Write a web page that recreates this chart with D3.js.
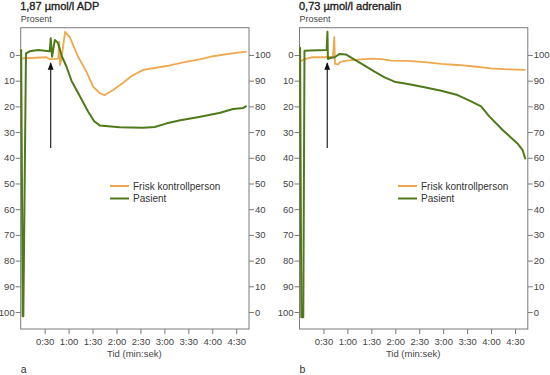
<!DOCTYPE html>
<html>
<head>
<meta charset="utf-8">
<script src="https://cdn.jsdelivr.net/npm/d3@7"></script>
<style>
  body { margin: 0; background: #fff; }
  svg { display: block; font-family: "Liberation Sans", Arial, sans-serif; }
</style>
</head>
<body>
<svg id="chart" width="550" height="375"></svg>
<script>
// tid i sekunder, verdier i prosent (venstre akse)
const adpKontrollTid = [0.9, 32, 36.4, 44.8, 47, 48.3, 49.3, 50.8, 55.6, 61.5, 71.9, 82.4, 90.7, 99.1, 105.4, 115.8, 128.4, 138.9, 153.5, 182.8, 207.9, 224.6, 241, 265, 283];
const adpKontroll = [1.3, 0.9, 1.6, 1.5, 1.3, -5.2, 3.9, 1.9, -9.0, -6.9, 0.7, 6.5, 12.3, 14.9, 15.6, 13.6, 10.8, 8.2, 5.8, 4.3, 2.6, 1.7, 0.5, -0.6, -1.3];

const adpPasientTid = [0, 0.6, 2.5, 3.3, 6.6, 11.3, 21.7, 30, 36.4, 37.6, 39.3, 42.7, 46, 47, 51.4, 57.3, 63.6, 74, 84.4, 92, 99, 124, 153, 168, 183, 200, 225, 250, 266, 279, 283];
const adpPasient = [-1.9, -1.9, 101.6, 101.6, -0.6, -1.4, -1.9, -1.6, -1.4, -6.5, 0.7, -5.8, -4.9, -4.3, 0.4, 4.5, 10, 16, 22, 25.8, 27.4, 28.1, 28.3, 28.0, 26.6, 25.4, 24, 22.5, 21, 20.6, 19.8];

const adrKontrollTid = [0.4, 6.6, 15, 31.6, 42, 43.5, 44.5, 47.9, 51.6, 56.6, 69, 90, 102.5, 115, 135.8, 156.6, 177.5, 198, 219, 240, 260.8, 283];
const adrKontroll = [2.6, 1.6, 0.9, 0.9, 0.7, -6.9, 3.5, 3.7, 2.7, 2.3, 1.9, 1.4, 1.6, 2.2, 2.3, 2.8, 3.5, 3.9, 4.5, 5.2, 5.6, 5.8];

const adrPasientTid = [0, 0.75, 2.3, 4.75, 6.25, 12.9, 34, 35, 35.6, 38.5, 44, 50.4, 57.9, 73.3, 94, 106.6, 119, 135.8, 156.6, 177.5, 198, 213, 227.5, 238, 254.5, 273, 279.5, 283];
const adrPasient = [-2.8, -2.8, 102, 102, -1.6, -1.75, -1.9, -9, 1.6, 1.2, 0.9, -0.4, -0.2, 2.6, 6.5, 8.7, 10.4, 11.3, 12.6, 13.9, 15.6, 17.8, 20.0, 24, 29.2, 34.4, 37, 40.6];

const xTicks = [30, 60, 90, 120, 150, 180, 210, 240, 270];
const xTickLabels = ["0:30", "1:00", "1:30", "2:00", "2:30", "3:00", "3:30", "4:00", "4:30"];
const yTicks = [0, 10, 20, 30, 40, 50, 60, 70, 80, 90, 100];
const seriesNames = ["Frisk kontrollperson", "Pasient"];
const titles = ["1,87 µmol/l ADP", "0,73 µmol/l adrenalin"];
const letters = ["a", "b"];
const arrowTid = [37.6, 34.75];
const arrowFra = 36.2, arrowTil = 3.1;

const orange = "#efa84e";
const green = "#4f7a1b";
const frameCol = "#7a7a7a";
const textCol = "#444";

const svg = d3.select("#chart");
const defs = svg.append("defs");
defs.append("marker")
  .attr("id", "pil")
  .attr("viewBox", "0 0 10 10")
  .attr("refX", 9).attr("refY", 5)
  .attr("markerWidth", 7).attr("markerHeight", 7)
  .attr("orient", "auto")
  .append("path").attr("d", "M0,1.2 L10,5 L0,8.8 z").attr("fill", "#111");

const panels = [
  { left: 20.7, kTid: adpKontrollTid, k: adpKontroll, pTid: adpPasientTid, p: adpPasient, legendX: 110 },
  { left: 299.5, kTid: adrKontrollTid, k: adrKontroll, pTid: adrPasientTid, p: adrPasient, legendX: 398 }
];
const plotW = 228.3, plotTop = 27.7, plotBottom = 329;

panels.forEach((pn, i) => {
  const x = d3.scaleLinear().domain([0, 286]).range([pn.left, pn.left + plotW]);
  const y = d3.scaleLinear().domain([-10.6, 106.6]).range([plotTop, plotBottom]);
  const yR = d3.scaleLinear().domain([110.6, -6.6]).range([plotTop, plotBottom]);

  const g = svg.append("g");

  // tittel
  g.append("text").attr("x", pn.left - 0.5).attr("y", 9.5)
    .attr("font-size", 11).attr("fill", "#222")
    .attr("stroke", "#222").attr("stroke-width", 0.35)
    .text(titles[i]);
  g.append("text").attr("x", pn.left).attr("y", 22)
    .attr("font-size", 9).attr("fill", textCol).text("Prosent");

  // ramme
  g.append("rect").attr("x", pn.left).attr("y", plotTop)
    .attr("width", plotW).attr("height", plotBottom - plotTop)
    .attr("fill", "none").attr("stroke", frameCol).attr("stroke-width", 1);

  const styleAxis = sel => {
    sel.select(".domain").remove();
    sel.selectAll(".tick line").attr("stroke", frameCol);
    sel.selectAll(".tick text").attr("fill", textCol).attr("font-size", 9.5)
      .attr("font-family", "'Liberation Sans', Arial, sans-serif");
  };

  g.append("g").attr("transform", `translate(${pn.left},0)`)
    .call(d3.axisLeft(y).tickValues(yTicks).tickSize(5).tickPadding(1))
    .call(styleAxis);
  g.append("g").attr("transform", `translate(${pn.left + plotW},0)`)
    .call(d3.axisRight(yR).tickValues(yTicks).tickSize(5).tickPadding(1))
    .call(styleAxis);
  g.append("g").attr("transform", `translate(0,${plotBottom})`)
    .call(d3.axisBottom(x).tickValues(xTicks).tickFormat((d, j) => xTickLabels[j]).tickSize(5).tickPadding(4))
    .call(styleAxis);

  g.append("text").attr("x", pn.left + plotW / 2 - 0.5).attr("y", 357)
    .attr("text-anchor", "middle").attr("font-size", 9.5).attr("fill", textCol)
    .text("Tid (min:sek)");
  g.append("text").attr("x", pn.left).attr("y", 373)
    .attr("font-size", 10.5).attr("fill", "#333").text(letters[i]);

  const line = d3.line().x(d => x(d[0])).y(d => y(d[1]));

  g.append("path").datum(d3.zip(pn.kTid, pn.k))
    .attr("d", line).attr("fill", "none")
    .attr("stroke", orange).attr("stroke-width", 1.8).attr("stroke-linejoin", "round");
  g.append("path").datum(d3.zip(pn.pTid, pn.p))
    .attr("d", line).attr("fill", "none")
    .attr("stroke", green).attr("stroke-width", 2).attr("stroke-linejoin", "round");

  // pil
  g.append("line")
    .attr("x1", x(arrowTid[i])).attr("x2", x(arrowTid[i]))
    .attr("y1", y(arrowFra)).attr("y2", y(arrowTil))
    .attr("stroke", "#111").attr("stroke-width", 1.1)
    .attr("marker-end", "url(#pil)");

  // legende
  const legCols = [orange, green];
  seriesNames.forEach((nm, j) => {
    const ly = 186 + j * 12.5;
    g.append("line").attr("x1", pn.legendX).attr("x2", pn.legendX + 19)
      .attr("y1", ly).attr("y2", ly).attr("stroke", legCols[j]).attr("stroke-width", 2);
    g.append("text").attr("x", pn.legendX + 23).attr("y", ly + 3.5)
      .attr("font-size", 10).attr("fill", "#333").text(nm);
  });
});
</script>
</body>
</html>
